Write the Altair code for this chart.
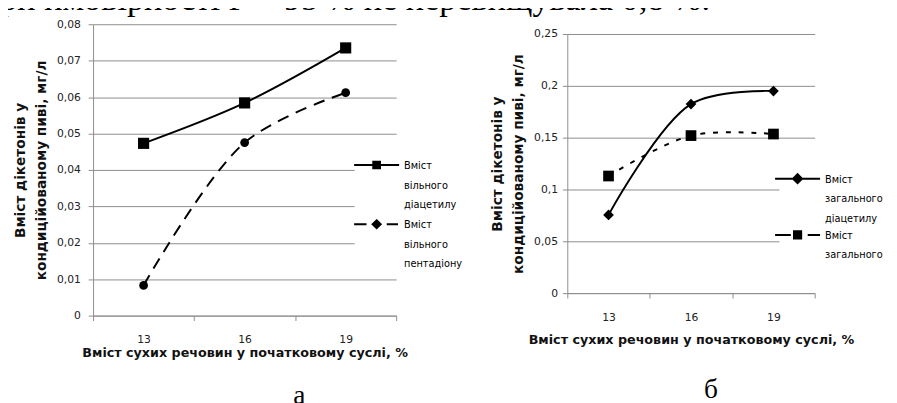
import altair as alt
import pandas as pd

# ---------------- data ----------------
conc = ["13", "16", "19"]
free_diacetyl = [0.0473, 0.0584, 0.0735]
free_pentanedione = [0.0083, 0.0475, 0.0612]
total_diacetyl = [0.0755, 0.1824, 0.195]
total_pentanedione = [0.113, 0.152, 0.1535]

left_ticks = [0, 0.01, 0.02, 0.03, 0.04, 0.05, 0.06, 0.07, 0.08]
right_ticks = [0, 0.05, 0.1, 0.15, 0.2, 0.25]

left_names = ["Вміст вільного діацетилу", "Вміст вільного пентадіону"]
right_names = ["Вміст загального діацетилу", "Вміст загального пентадіону"]

x_title = "Вміст сухих речовин у початковому суслі, %"
y_title = ["Вміст дікетонів у", "кондиційованому пиві, мг/л"]
top_line = "ри ймовірності Р = 95 % не перевищувала 0,8 %."
panel_letters = ["а", "б"]

GRID = "#8c8c8c"
SANS = "DejaVu Sans"
SERIF = "Liberation Serif"


def long_df(names, s1, s2):
    return pd.DataFrame({
        "conc": conc * 2,
        "value": s1 + s2,
        "series": [names[0]] * 3 + [names[1]] * 3,
    })


def panel(df, names, ymax, yticks, width, height, yrange, styles, legend_paths,
          legend_xy, legend_pad, legend_rowpad, label_expr, y_label_pad,
          x_label_pad, x_title_y, letter, letter_xy, guard):
    x = alt.X("conc:N", sort=conc, bandPosition=0.5,
              scale=alt.Scale(type="band", paddingInner=0, paddingOuter=0),
              axis=alt.Axis(title=x_title, tickBand="extent", labelAngle=0,
                            grid=False, tickSize=5, labelPadding=x_label_pad,
                            titleY=x_title_y, titleFontSize=13, titleLimit=420,
                            titleBaseline="top"))
    y = alt.Y("value:Q",
              scale=alt.Scale(domain=[0, ymax], nice=False, zero=True,
                              range=yrange),
              axis=alt.Axis(title=y_title, values=yticks, tickSize=5,
                            labelPadding=y_label_pad, titlePadding=8,
                            titleFontSize=14, titleLineHeight=22,
                            labelExpr="replace(format(datum.value, '~g'), '.', ',')"))
    layers = []
    for name, st in zip(names, styles):
        sub = df[df["series"] == name]
        line_kw = dict(interpolate="catmull-rom", color="black", strokeWidth=2)
        if st["dash"]:
            line_kw["strokeDash"] = st["dash"]
        layers.append(alt.Chart(sub).mark_line(**line_kw).encode(x=x, y=y))
        layers.append(alt.Chart(sub).mark_point(
            filled=True, opacity=1, color="black", shape=st["shape"],
            size=st["size"]).encode(x=x, y=y))
    leg = alt.Chart(df).mark_point(
        filled=True, fill="black", stroke="black", strokeWidth=2, opacity=0
    ).encode(
        x=x, y=y,
        shape=alt.Shape("series:N", sort=names,
                        scale=alt.Scale(domain=names, range=legend_paths),
                        legend=alt.Legend(
                            title=None, orient="none",
                            legendX=legend_xy[0], legendY=legend_xy[1],
                            fillColor="white", padding=legend_pad,
                            symbolSize=529, symbolStrokeWidth=2,
                            symbolOpacity=1, labelFont=SANS, labelFontSize=10,
                            labelColor="black", labelBaseline="alphabetic",
                            labelLimit=0, labelOffset=15.5,
                            rowPadding=legend_rowpad,
                            labelExpr=label_expr)))
    g = alt.Chart(df).mark_rule(opacity=0, strokeWidth=0.01).encode(
        x=alt.value(guard[0]), x2=alt.value(guard[1]),
        y=alt.value(guard[2]), y2=alt.value(guard[2]))
    lab = alt.Chart(pd.DataFrame({"t": [letter]})).mark_text(
        font=SERIF, fontSize=28, align="center", baseline="alphabetic",
        color="black").encode(x=alt.value(letter_xy[0]),
                              y=alt.value(letter_xy[1]), text="t:N")
    return alt.layer(*layers, leg, g, lab).properties(width=width, height=height)


left_df = long_df(left_names, free_diacetyl, free_pentanedione)
right_df = long_df(right_names, total_diacetyl, total_pentanedione)

left = panel(
    left_df, left_names, 0.08, left_ticks, 310, 298, [298, 0],
    [dict(dash=None, shape="square", size=130),
     dict(dash=[12, 8], shape="circle", size=80)],
    ["M-2,-0.35H2M-0.3,-0.65H0.3V-0.05H-0.3Z",
     "M-2,-0.35H-0.9M0,-0.7L0.36,-0.35L0,0L-0.36,-0.35ZM0.9,-0.35H1.9"],
    (267.5, 125.5), 10, 5.5, "split(datum.label, ' ')", 8, 13, 32,
    panel_letters[0], (211, 388), (-87, 390, 100))

right = panel(
    right_df, right_names, 0.25, right_ticks, 253, 275, [275, 10],
    [dict(dash=None, shape="diamond", size=120),
     dict(dash=[5, 8], shape="square", size=120)],
    ["M-2,-0.35H2M0,-0.75L0.4,-0.35L0,0.05L-0.4,-0.35Z",
     "M-2,-0.35H-0.6M-0.32,-0.67H0.32V-0.03H-0.32ZM0.9,-0.35H2"],
    (217, 143.5), 6, 2.5,
    "datum.label == 'Вміст загального пентадіону' ? ['Вміст', 'загального'] : split(datum.label, ' ')",
    5, 14, 42, panel_letters[1], (147, 382), (-90, 0, 100))

top = alt.Chart(pd.DataFrame({"t": [top_line]})).mark_text(
    font=SERIF, fontSize=35, align="left", baseline="alphabetic",
    color="black").encode(x=alt.value(-95), y=alt.value(30), text="t:N").properties(
    width=700, height=1)

body = alt.hconcat(left, right, spacing=5).resolve_scale(
    shape="independent").resolve_legend(shape="independent")

chart = alt.vconcat(top, body, spacing=2).properties(
    padding={"left": -8, "top": -33, "right": 0, "bottom": 0}
).configure(
    style={"guide-label": {"lineHeight": 20}},
).configure_view(stroke=None).configure_axis(
    gridColor=GRID, domainColor=GRID, tickColor=GRID, gridWidth=1,
    labelFont=SANS, labelFontSize=11, labelColor="#222",
    titleFont=SANS, titleFontWeight="bold", titleColor="#111"
)

chart.save("out.html", embed_options={"renderer": "svg", "actions": False})
